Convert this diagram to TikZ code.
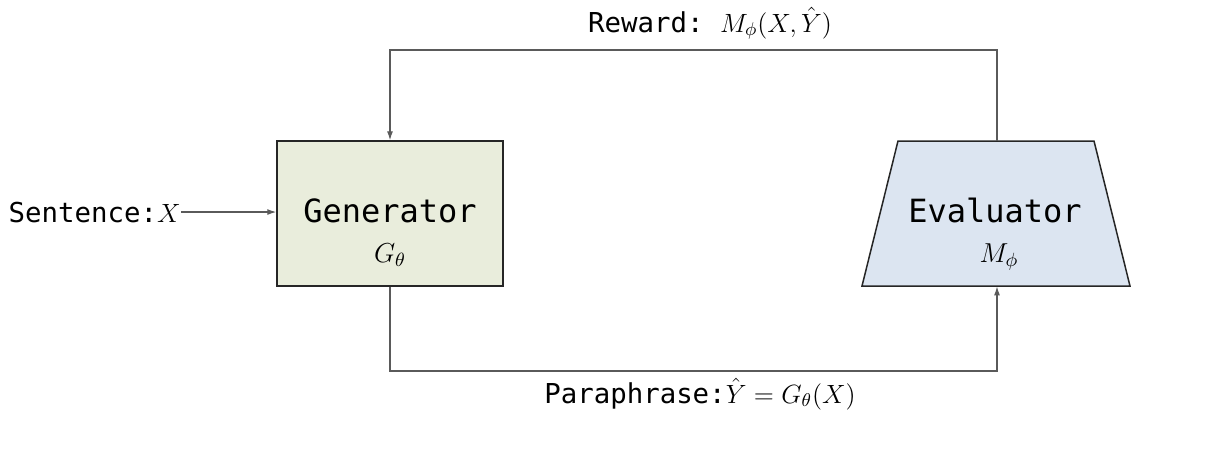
\documentclass[tikz,border=0pt]{standalone}
\usepackage{fix-cm}
\usepackage{fontspec}
\setmonofont{DejaVu Sans Mono}
\usetikzlibrary{arrows.meta}
\definecolor{genfill}{HTML}{E9EDDC}
\definecolor{evalfill}{HTML}{DCE5F1}
\definecolor{conncol}{HTML}{5A5A5A}
\newcommand{\mth}[1]{{\fontsize{13.2}{15}\selectfont$#1$}}
\tikzset{
  boxline/.style={draw=black!85, line width=0.75pt},
  conn/.style={draw=conncol, line width=0.55pt, -{Latex[length=4.5pt,width=3pt]}},
  lbl/.style={inner sep=0pt, font=\fontsize{13.7}{16}\selectfont\ttfamily},
  big/.style={inner sep=0pt, font=\fontsize{16}{19}\selectfont\ttfamily},
  sub/.style={inner sep=0pt, font=\fontsize{13.7}{16}\selectfont},
}
\begin{document}
\begin{tikzpicture}[x=0.5pt,y=-0.5pt]
\useasboundingbox (0,0) rectangle (1212,462);
% generator box
\node[boxline, fill=genfill, rectangle, minimum width=113pt, minimum height=72.5pt, inner sep=0pt] (gen) at (390,213.5) {};
\node[big, anchor=base] (genT) at (390,222) {Generator};
\node[sub, anchor=base] (genS) at (390,262) {$G_\theta$};
% evaluator trapezium
\draw[boxline, fill=evalfill] (898,141) -- (1094,141) -- (1130,286) -- (862,286) -- cycle;
\node[rectangle, minimum width=134pt, minimum height=72.5pt, inner sep=0pt] (eval) at (997,213.5) {};
\node[big, anchor=base] (evalT) at (995,222) {Evaluator};
\node[sub, anchor=base] (evalS) at (999,262) {$M_\phi$};
% sentence input
\node[lbl, anchor=base east] (sent) at (181,222) {Sentence:\mth{X}};
\draw[conn] (sent.east) -- (gen.west |- sent.east);
% loop coordinates
\coordinate (topC) at (700,50);
\coordinate (botC) at (700,371);
\draw[conn] (eval.north) |- (topC) -| (gen.north);
\draw[conn] (gen.south) |- (botC) -| (eval.south);
% labels
\node[lbl, anchor=base] (reward) at (710,32) {Reward: \mth{M_\phi(X,\hat{Y})}};
\node[lbl, anchor=base] (para) at (700,403) {Paraphrase:\mth{\hat{Y}=G_\theta(X)}};
\end{tikzpicture}
\end{document}
